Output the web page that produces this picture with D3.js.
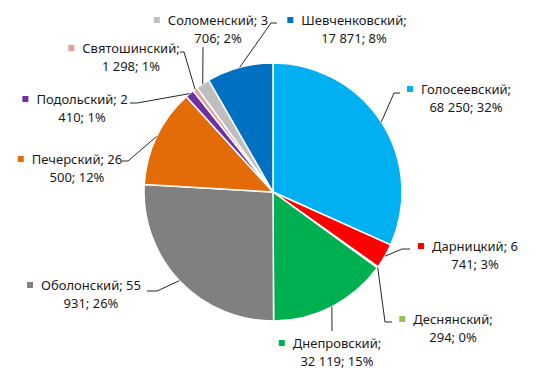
<!DOCTYPE html>
<html>
<head>
<meta charset="utf-8">
<script src="https://cdn.jsdelivr.net/npm/d3@7/dist/d3.min.js"></script>
<style>
  html, body { margin: 0; padding: 0; background: #fff; }
  svg { display: block; font-family: 'Noto Sans', sans-serif; }
</style>
</head>
<body>
<svg id="svg" width="551" height="376"></svg>
<script>
const districts = [
  'Голосеевский', 'Дарницкий', 'Деснянский', 'Днепровский', 'Оболонский',
  'Печерский', 'Подольский', 'Святошинский', 'Соломенский', 'Шевченковский'
]
const values = [68250, 6741, 294, 32119, 55931, 26500, 2410, 1298, 3706, 17871]
const percents = [32, 3, 0, 15, 26, 12, 1, 1, 2, 8]
const colors = [
  '#00b0f0', '#ff0000', '#9bbb59', '#00b050', '#808080',
  '#e36c09', '#7030a0', '#e6a0a0', '#bfbfbf', '#0070c0'
]

// label layout: text centre x, first line y, words kept on line 1, leader points
const labelLayout = [
  { x: 466, y: 89, words: 1, line: [[394, 93], [400, 93]] },
  { x: 475, y: 246, words: 2, line: [[402, 249], [410, 249]] },
  { x: 453, y: 319, words: 1, line: [[385, 322], [392, 322]] },
  { x: 337, y: 343, words: 1, line: [[332, 331]] },
  { x: 91, y: 285, words: 2, line: [[157, 291], [147, 291]] },
  { x: 77, y: 159, words: 2, line: [[128, 161], [122, 161]] },
  { x: 82, y: 99, words: 2, line: [[137, 103], [130, 103]] },
  { x: 131, y: 48, words: 1, line: [[184, 52], [180, 52]] },
  { x: 218, y: 20, words: 2, line: [[203, 47]] },
  { x: 354, y: 20, words: 1, line: [[271, 23], [277, 23]] }
]

const cx = 273
const cy = 192
const radius = 129
const lineGap = 18

const fmt = (v) => d3.format(',')(v).replace(/,/g, ' ')

const data = districts.map((name, i) => ({
  name,
  value: values[i],
  pct: percents[i],
  color: colors[i],
  layout: labelLayout[i]
}))

const pie = d3.pie().value(d => d.value).sort(null)
const arc = d3.arc().innerRadius(0).outerRadius(radius)

const svg = d3.select('#svg')
const graph = svg.append('g').attr('transform', `translate(${cx}, ${cy})`)
const arcs = pie(data)

graph.selectAll('path.slice')
  .data(arcs)
  .join('path')
  .attr('class', 'slice')
  .attr('d', arc)
  .attr('fill', d => d.data.color)
  .attr('stroke', '#fff')
  .attr('stroke-width', 1.5)
  .attr('stroke-linejoin', 'round')

// leader lines
const lineGen = d3.line()
svg.selectAll('path.leader')
  .data(arcs)
  .join('path')
  .attr('class', 'leader')
  .attr('d', d => {
    const mid = (d.startAngle + d.endAngle) / 2
    const start = [cx + radius * Math.sin(mid), cy - radius * Math.cos(mid)]
    return lineGen([start, ...d.data.layout.line])
  })
  .attr('fill', 'none')
  .attr('stroke', '#262626')
  .attr('stroke-width', 1)

// labels
const labels = svg.selectAll('g.label')
  .data(data)
  .join('g')
  .attr('class', 'label')

labels.each(function (d) {
  const g = d3.select(this)
  const words = `${d.name}; ${fmt(d.value)}; ${d.pct}%`.split(' ')
  const line1 = words.slice(0, d.layout.words).join(' ')
  const line2 = words.slice(d.layout.words).join(' ')
  const t1 = g.append('text')
    .attr('x', d.layout.x)
    .attr('y', d.layout.y)
    .attr('dy', '0.35em')
    .attr('text-anchor', 'middle')
    .attr('font-size', 13)
    .attr('fill', '#1a1a1a')
    .text(line1)
  g.append('text')
    .attr('x', d.layout.x)
    .attr('y', d.layout.y + lineGap)
    .attr('dy', '0.35em')
    .attr('text-anchor', 'middle')
    .attr('font-size', 13)
    .attr('fill', '#1a1a1a')
    .text(line2)
  const w = t1.node().getComputedTextLength()
  g.append('rect')
    .attr('x', d.layout.x - w / 2 - 14)
    .attr('y', d.layout.y - 3)
    .attr('width', 6)
    .attr('height', 6)
    .attr('fill', d.color)
})
</script>
</body>
</html>
